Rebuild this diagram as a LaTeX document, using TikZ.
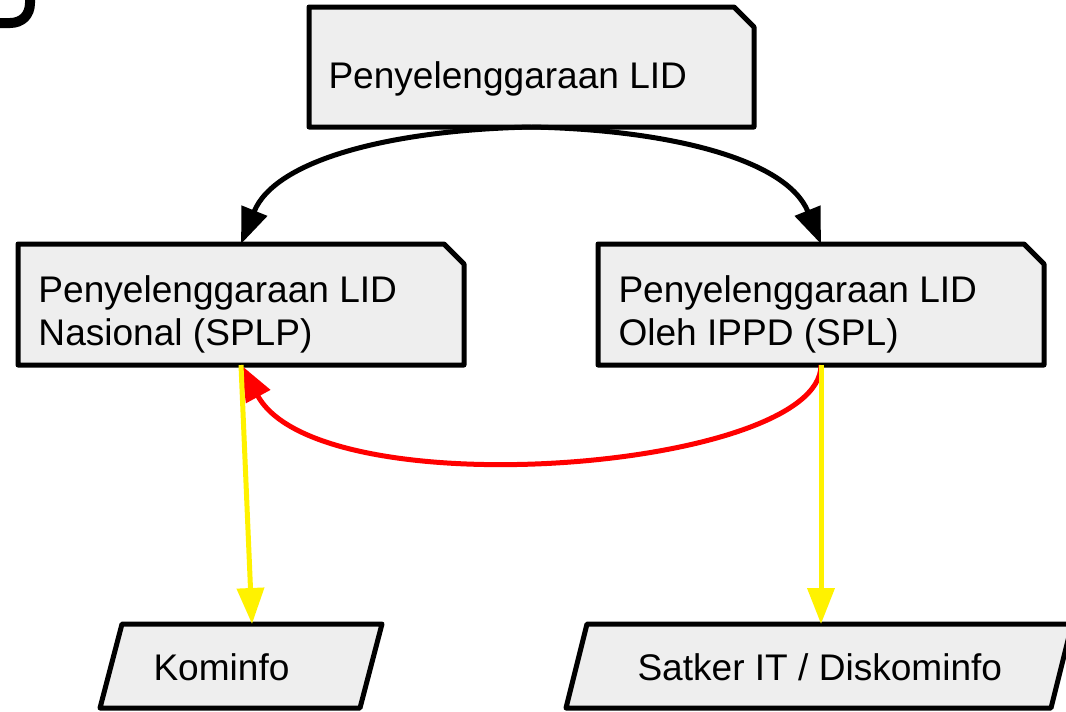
\documentclass[tikz,border=0pt]{standalone}
\usepackage{fontspec}
\setmainfont{Liberation Sans}
\usetikzlibrary{arrows.meta}

\definecolor{boxgray}{RGB}{238,238,238}

\tikzset{every picture/.style={line width=3.75pt}}
\tikzset{
  sbox/.style={rectangle, inner sep=0pt, outer sep=0pt},
  lbl/.style={inner sep=0pt, font=\fontsize{27.8pt}{32.25pt}\selectfont, align=left},
  tip/.style={-{Triangle[length=27pt,width=20pt]}},
}
% box with the north east corner cut off
\newcommand{\snipbox}[1]{%
  \draw [fill=boxgray, line join=round] (#1.north west) -- ([xshift=-15pt]#1.north east)
    -- ([yshift=15pt]#1.north east) -- (#1.south east) -- (#1.south west) -- cycle ;}

\begin{document}
\begin{tikzpicture}[x=0.75pt,y=0.75pt,yscale=-1,xscale=1]
\path[use as bounding box] (0,0) rectangle (1066,711);
\clip (0,0) rectangle (1066,711);

%Shape: cut off stroke
\draw [line width=7.5pt, line cap=round] (-10,23) -- (10,23) .. controls (22,23) and (30,15) .. (30,3) -- (30,-10) ;

%Boxes
\node [sbox, minimum width=333.75pt, minimum height=90pt] (tbox) at (531.5,67) {};
\node [sbox, minimum width=334.5pt, minimum height=90.75pt] (lbox) at (241,304.5) {};
\node [sbox, minimum width=334.5pt, minimum height=90.75pt] (rbox) at (821,304.5) {};
\snipbox{tbox}
\snipbox{lbox}
\snipbox{rbox}

%Parallelograms
\draw [fill=boxgray, line join=round] (122,624) -- (382,624) -- (360,708) -- (100,708) -- cycle ;
\draw [fill=boxgray, line join=round] (587,624) -- (1072,624) -- (1051,708) -- (566,708) -- cycle ;
\coordinate (ktop) at (252,624) ;
\coordinate (stop) at (821,624) ;

%Curve Lines
\draw [tip] (tbox.south) .. controls (390,130) and (275,160) .. (lbox.north) ;
\draw [tip] (tbox.south) .. controls (672,130) and (787,160) .. (rbox.north) ;
\draw [red, tip] (rbox.south) .. controls (821,470) and (320,510) .. (lbox.south) ;

%Straight Lines
\draw [yellow, tip] (lbox.south) -- (ktop) ;
\draw [yellow, tip] (rbox.south) -- (stop) ;

% Text Node
\node [lbl, anchor=base west] (ttxt) at (326,88) {Penyelenggaraan LID};
% Text Node
\node [lbl, anchor=base west] (ltxt) at (36,345) {Penyelenggaraan LID\\Nasional (SPLP)};
% Text Node
\node [lbl, anchor=base west] (rtxt) at (616,345) {Penyelenggaraan LID\\Oleh IPPD (SPL)};
% Text Node
\node [lbl, anchor=base west] (ktxt) at (151,680) {Kominfo};
% Text Node
\node [lbl, anchor=base west] (stxt) at (635,680) {Satker IT / Diskominfo};

\end{tikzpicture}
\end{document}
